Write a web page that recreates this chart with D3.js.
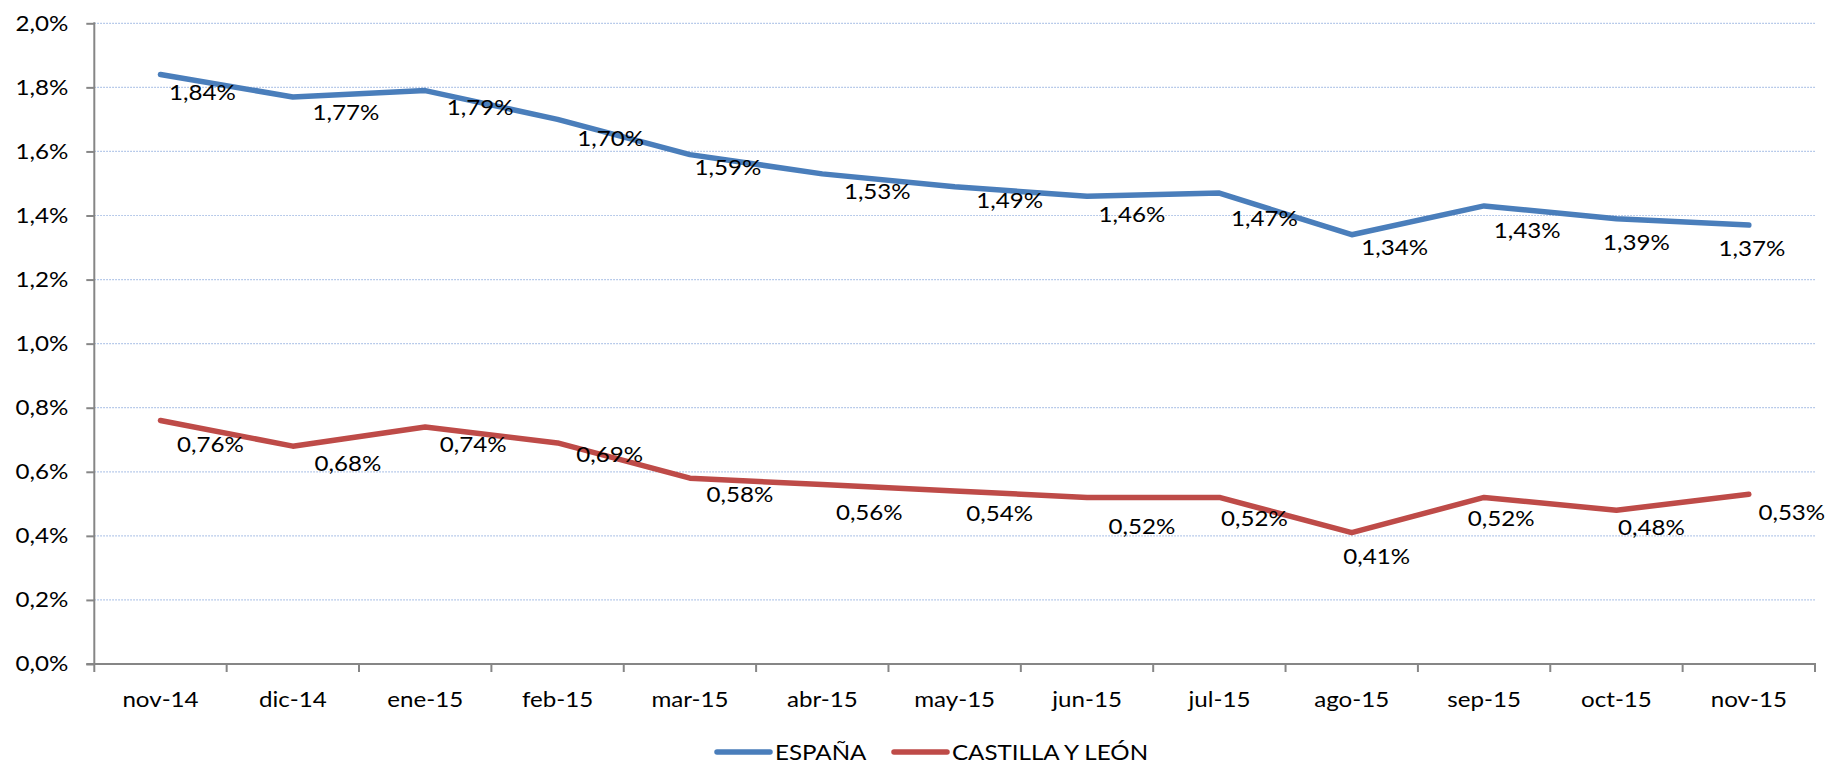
<!DOCTYPE html>
<html>
<head>
<meta charset="utf-8">
<script src="https://cdn.jsdelivr.net/npm/d3@7"></script>
<style>
  body { margin: 0; background: #fff; }
  svg { display: block; }
  svg text { font-family: Lato, "Open Sans", sans-serif; }
  text.sx { transform-box: fill-box; transform: scaleX(1.15); }
  text.sx-end { transform-origin: right center; }
  text.sx-mid { transform-origin: center center; }
  text.sx-start { transform-origin: left center; }
</style>
</head>
<body>
<svg></svg>
<script>
var width = 1829;
var height = 765;

var months = ["nov-14", "dic-14", "ene-15", "feb-15", "mar-15", "abr-15", "may-15",
              "jun-15", "jul-15", "ago-15", "sep-15", "oct-15", "nov-15"];
var espana = [1.84, 1.77, 1.79, 1.70, 1.59, 1.53, 1.49, 1.46, 1.47, 1.34, 1.43, 1.39, 1.37];
var castilla = [0.76, 0.68, 0.74, 0.69, 0.58, 0.56, 0.54, 0.52, 0.52, 0.41, 0.52, 0.48, 0.53];
var yTicks = [0, 0.2, 0.4, 0.6, 0.8, 1.0, 1.2, 1.4, 1.6, 1.8, 2.0];
var seriesNames = ["ESPAÑA", "CASTILLA Y LEÓN"];

// label nudges (px from the point), as placed by hand in the original
var espDx = [42, 53, 55, 53, 38, 55, 55, 45, 45, 43, 43, 20, 3];
var espDy = [25, 23, 24, 27, 20, 25, 21, 26, 33, 20, 32, 31, 31];
var cylDx = [50, 55, 48, 52, 50, 47, 45, 55, 35, 25, 17, 35, 43];
var cylDy = [31, 25, 25, 19, 24, 35, 30, 37, 29, 31, 29, 25, 26];

var plotLeft = 94.3, plotRight = 1815, plotTop = 23.3, plotBottom = 664;
var fontSize = "21px";

var es = d3.formatLocale({decimal: ",", thousands: ".", grouping: [3], currency: ["", " €"]});
var fmt1 = es.format(".1f");
var fmt2 = es.format(".2f");

var x = d3.scaleBand().domain(months).range([plotLeft, plotRight]);
var y = d3.scaleLinear().domain([0, 2]).range([plotBottom, plotTop]);
var cx = d => x(d) + x.bandwidth() / 2;

var svg = d3.select("svg").attr("width", width).attr("height", height);

// Gridlines
svg.append("g")
  .selectAll("line")
  .data(yTicks.filter(d => d > 0))
  .enter()
  .append("line")
    .attr("x1", plotLeft).attr("x2", plotRight)
    .attr("y1", d => y(d)).attr("y2", d => y(d))
    .attr("stroke", "#a4bce4")
    .attr("stroke-width", 1.2)
    .attr("stroke-dasharray", "1.5,1.5");

// Y axis
var yAxis = d3.axisLeft(y)
  .tickValues(yTicks)
  .tickSize(8)
  .tickPadding(18)
  .tickFormat(d => fmt1(d) + "%");

var gy = svg.append("g")
  .attr("transform", `translate(${plotLeft}, 0)`)
  .call(yAxis)
  .attr("font-family", null)
  .attr("font-size", null);
gy.select(".domain").remove();
gy.selectAll("line").attr("stroke", "#868686").attr("stroke-width", 2);
gy.selectAll("text")
  .attr("class", "sx sx-end")
  .style("font-size", fontSize)
  .attr("fill", "#000");

// X axis labels
var xAxis = d3.axisBottom(x).tickSize(0).tickSizeOuter(0);
var gx = svg.append("g")
  .attr("transform", `translate(0, ${plotBottom})`)
  .call(xAxis)
  .attr("font-family", null)
  .attr("font-size", null);
gx.select(".domain").remove();
gx.selectAll("text")
  .attr("y", 43)
  .attr("dy", 0)
  .attr("class", "sx sx-mid")
  .style("font-size", fontSize)
  .attr("fill", "#000");

// X boundary ticks
svg.append("g")
  .selectAll("line")
  .data(months.map(d => x(d)).concat([plotRight]))
  .enter()
  .append("line")
    .attr("x1", d => d).attr("x2", d => d)
    .attr("y1", plotBottom).attr("y2", plotBottom + 8)
    .attr("stroke", "#868686")
    .attr("stroke-width", 2);

// Axis lines
svg.append("line")
  .attr("x1", plotLeft).attr("x2", plotLeft)
  .attr("y1", plotTop - 1).attr("y2", plotBottom)
  .attr("stroke", "#868686").attr("stroke-width", 2);
svg.append("line")
  .attr("x1", plotLeft - 8).attr("x2", plotRight + 1)
  .attr("y1", plotBottom).attr("y2", plotBottom)
  .attr("stroke", "#868686").attr("stroke-width", 2);

// Series
var series = [
  {name: seriesNames[0], values: espana, color: "#4a7ebb", dx: espDx, dy: espDy},
  {name: seriesNames[1], values: castilla, color: "#be4b48", dx: cylDx, dy: cylDy}
];

var line = d3.line()
  .x((d, i) => cx(months[i]))
  .y(d => y(d));

series.forEach(function(s) {
  svg.append("path")
    .datum(s.values)
    .attr("d", line)
    .attr("fill", "none")
    .attr("stroke", s.color)
    .attr("stroke-width", 5.5)
    .attr("stroke-linejoin", "round")
    .attr("stroke-linecap", "round");

  svg.append("g")
    .selectAll("text")
    .data(s.values)
    .enter()
    .append("text")
      .attr("class", "sx sx-mid")
      .attr("x", (d, i) => cx(months[i]) + s.dx[i])
      .attr("y", (d, i) => y(d) + s.dy[i])
      .attr("text-anchor", "middle")
      .style("font-size", fontSize)
      .attr("fill", "#000")
      .text(d => fmt2(d) + "%");
});

// Legend
var legendX = [717, 894];
var legend = svg.append("g")
  .selectAll("g")
  .data(series)
  .enter()
  .append("g")
    .attr("transform", (d, i) => `translate(${legendX[i]}, 752)`);

legend.append("line")
  .attr("x1", 0).attr("x2", 53)
  .attr("stroke", d => d.color)
  .attr("stroke-width", 5.5)
  .attr("stroke-linecap", "round");

legend.append("text")
  .attr("class", "sx sx-start")
  .attr("x", 58)
  .attr("dy", "0.36em")
  .style("font-size", fontSize)
  .attr("fill", "#000")
  .text(d => d.name);
</script>
</body>
</html>
